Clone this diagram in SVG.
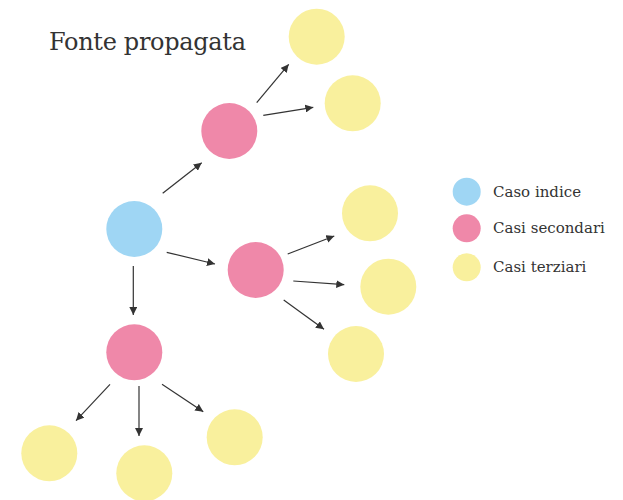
<svg xmlns="http://www.w3.org/2000/svg" width="623" height="500" viewBox="0 0 623 500">
<style>
.t{font-family:"DejaVu Serif","Liberation Serif",serif;fill:#333}
.idx{fill:#9fd6f4}
.sec{fill:#ef88a9}
.ter{fill:#f9f09d}
.edge{stroke:#333;stroke-width:1.2;fill:none;marker-end:url(#ah)}
</style>
<defs>
<marker id="ah" viewBox="0 0 10 10" refX="10" refY="5" markerWidth="8" markerHeight="8" markerUnits="userSpaceOnUse" orient="auto">
<path d="M0,0 L10,5 L0,10 z" fill="#333"/>
</marker>
</defs>
<rect width="623" height="500" fill="#fff"/>
<text class="t" x="49" y="50" font-size="24" textLength="197">Fonte propagata</text>
<g id="connectors">
<line class="edge" x1="162.7" y1="193.3" x2="201.7" y2="162.7"/>
<line class="edge" x1="256.7" y1="102.7" x2="288.7" y2="64.3"/>
<line class="edge" x1="263.3" y1="115.3" x2="313.3" y2="107.3"/>
<line class="edge" x1="166.7" y1="252.3" x2="215" y2="264"/>
<line class="edge" x1="133.3" y1="266" x2="133.3" y2="315"/>
<line class="edge" x1="287.7" y1="254" x2="334.3" y2="236"/>
<line class="edge" x1="293.3" y1="281" x2="344.3" y2="284.7"/>
<line class="edge" x1="283.7" y1="300" x2="324" y2="329.3"/>
<line class="edge" x1="110" y1="384.3" x2="76" y2="420.7"/>
<line class="edge" x1="139" y1="386" x2="139" y2="436"/>
<line class="edge" x1="162" y1="384.3" x2="203.3" y2="411.7"/>
</g>
<g id="index"><circle class="idx" cx="134.3" cy="229" r="28"/></g>
<g id="sec-top"><circle class="sec" cx="229.3" cy="131" r="28"/></g>
<g id="sec-mid"><circle class="sec" cx="255.7" cy="270" r="28"/></g>
<g id="sec-bottom"><circle class="sec" cx="134.3" cy="352.3" r="28"/></g>
<g id="ter-1"><circle class="ter" cx="316.7" cy="36.7" r="28"/></g>
<g id="ter-2"><circle class="ter" cx="352.7" cy="103.3" r="28"/></g>
<g id="ter-3"><circle class="ter" cx="370" cy="213.3" r="28"/></g>
<g id="ter-4"><circle class="ter" cx="388.3" cy="286.7" r="28"/></g>
<g id="ter-5"><circle class="ter" cx="356" cy="354" r="28"/></g>
<g id="ter-6"><circle class="ter" cx="49.3" cy="453.3" r="28"/></g>
<g id="ter-7"><circle class="ter" cx="144.3" cy="473.3" r="28"/></g>
<g id="ter-8"><circle class="ter" cx="234.7" cy="437.3" r="28"/></g>
<g id="legend">
<circle class="idx" cx="466.7" cy="191.7" r="14"/>
<text class="t" x="493" y="196.7" font-size="15">Caso indice</text>
<circle class="sec" cx="466.7" cy="228.3" r="14"/>
<text class="t" x="493" y="233.3" font-size="15">Casi secondari</text>
<circle class="ter" cx="466.7" cy="267.3" r="14"/>
<text class="t" x="493" y="272" font-size="15">Casi terziari</text>
</g>
</svg>
